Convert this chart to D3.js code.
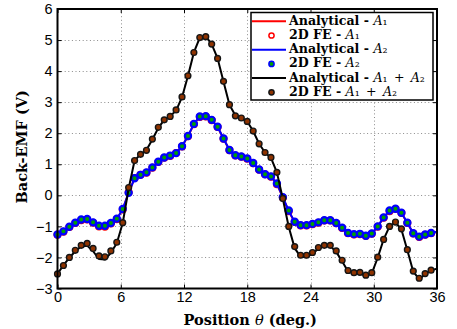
<!DOCTYPE html>
<html>
<head>
<meta charset="utf-8">
<script src="https://cdn.jsdelivr.net/npm/d3@7"></script>
<style>
  body { margin: 0; background: #fff; }
  svg { display: block; }
</style>
</head>
<body>
<svg id="chart" width="457" height="329"></svg>
<script>
// Rotor position samples: 64 finite-element steps over one 36 deg period
const feStep = 36 / 64;
const fePositions = d3.range(64).map(i => i * feStep);
const anPositions = d3.range(65).map(i => i * feStep);

// 2D finite-element back-EMF (V)
const feA2 = [
  -1.26, -1.16, -1.01, -0.88, -0.78, -0.76, -0.87, -0.98, -0.98, -0.89, -0.75, -0.44, 0.08, 0.55, 0.66, 0.74,
  0.90, 1.08, 1.22, 1.28, 1.36, 1.58, 1.91, 2.30, 2.54, 2.55, 2.43, 2.21, 1.83, 1.46, 1.29, 1.25,
  1.19, 1.04, 0.83, 0.68, 0.61, 0.38, -0.06, -0.49, -0.85, -0.96, -0.96, -0.92, -0.87, -0.80, -0.80, -0.89,
  -1.04, -1.21, -1.25, -1.24, -1.30, -1.23, -1.00, -0.71, -0.49, -0.43, -0.56, -0.88, -1.22, -1.33, -1.26, -1.21
];
const feA1 = [
  -1.27, -1.17, -1.02, -0.89, -0.80, -0.78, -0.88, -1.00, -1.01, -0.91, -0.77, -0.46, 0.10, 0.56, 0.66, 0.73,
  0.89, 1.07, 1.21, 1.27, 1.36, 1.57, 1.90, 2.29, 2.52, 2.54, 2.42, 2.20, 1.82, 1.45, 1.28, 1.24,
  1.18, 1.03, 0.82, 0.68, 0.60, 0.36, -0.07, -0.51, -0.86, -0.97, -0.97, -0.93, -0.88, -0.81, -0.81, -0.90,
  -1.05, -1.22, -1.26, -1.25, -1.31, -1.24, -1.01, -0.72, -0.51, -0.44, -0.57, -0.89, -1.23, -1.34, -1.27, -1.22
];
const feSum = [
  -2.53, -2.26, -2.00, -1.77, -1.61, -1.55, -1.71, -1.95, -1.98, -1.79, -1.51, -0.88, 0.25, 1.12, 1.32, 1.45,
  1.81, 2.19, 2.43, 2.54, 2.75, 3.17, 3.85, 4.60, 5.08, 5.11, 4.87, 4.41, 3.67, 2.92, 2.56, 2.49,
  2.38, 2.07, 1.66, 1.38, 1.22, 0.74, -0.10, -1.00, -1.65, -1.93, -1.93, -1.84, -1.68, -1.61, -1.61, -1.79,
  -2.09, -2.42, -2.49, -2.48, -2.57, -2.49, -1.99, -1.42, -1.00, -0.86, -1.08, -1.75, -2.44, -2.67, -2.52, -2.41
];

// Analytical back-EMF (V), same grid closed at 36 deg
const anA1 = [
  -1.27, -1.16, -1.02, -0.90, -0.81, -0.80, -0.90, -1.02, -1.03, -0.92, -0.77, -0.45, 0.09, 0.55, 0.66, 0.73,
  0.89, 1.07, 1.21, 1.27, 1.36, 1.57, 1.90, 2.29, 2.53, 2.55, 2.42, 2.20, 1.82, 1.45, 1.28, 1.24,
  1.18, 1.03, 0.82, 0.68, 0.60, 0.37, -0.07, -0.51, -0.87, -0.99, -0.99, -0.94, -0.88, -0.81, -0.81, -0.90,
  -1.05, -1.22, -1.27, -1.26, -1.31, -1.24, -1.01, -0.72, -0.50, -0.44, -0.57, -0.89, -1.23, -1.34, -1.27, -1.22,
  -1.18
];
const anA2 = [
  -1.26, -1.15, -1.01, -0.89, -0.80, -0.79, -0.89, -1.01, -1.02, -0.91, -0.76, -0.44, 0.08, 0.55, 0.66, 0.74,
  0.90, 1.08, 1.22, 1.28, 1.36, 1.58, 1.91, 2.30, 2.54, 2.55, 2.43, 2.21, 1.83, 1.46, 1.29, 1.25,
  1.19, 1.04, 0.83, 0.68, 0.61, 0.38, -0.06, -0.50, -0.86, -0.98, -0.98, -0.93, -0.87, -0.80, -0.80, -0.89,
  -1.04, -1.21, -1.26, -1.25, -1.30, -1.23, -1.00, -0.71, -0.49, -0.43, -0.56, -0.88, -1.22, -1.33, -1.26, -1.21,
  -1.17
];
const anSum = [
  -2.53, -2.25, -2.01, -1.80, -1.65, -1.62, -1.80, -2.05, -2.07, -1.85, -1.54, -0.89, 0.22, 1.12, 1.32, 1.46,
  1.80, 2.17, 2.43, 2.55, 2.73, 3.16, 3.84, 4.60, 5.08, 5.12, 4.87, 4.41, 3.66, 2.92, 2.57, 2.49,
  2.38, 2.07, 1.66, 1.38, 1.21, 0.74, -0.11, -1.02, -1.70, -1.98, -1.99, -1.88, -1.72, -1.63, -1.63, -1.82,
  -2.12, -2.45, -2.52, -2.51, -2.60, -2.51, -2.01, -1.42, -1.00, -0.87, -1.10, -1.77, -2.46, -2.70, -2.54, -2.42,
  -2.36
];

const xTickValues = [0, 6, 12, 18, 24, 30, 36];
const yTickValues = [-3, -2, -1, 0, 1, 2, 3, 4, 5, 6];

const plot = { left: 57.5, right: 437, top: 9, bottom: 288.5 };

const svg = d3.select("#chart");

const x = d3.scaleLinear().domain([0, 36]).range([plot.left, plot.right]);
const y = d3.scaleLinear().domain([-3, 6]).range([plot.bottom, plot.top]);

// Dotted grid
const grid = svg.append("g").attr("class", "grid")
  .attr("stroke", "#8c8c8c").attr("stroke-width", 1).attr("stroke-dasharray", "1,2.6");
grid.selectAll("line.gx").data(xTickValues.slice(1, -1)).join("line")
  .attr("x1", d => Math.round(x(d)) + 0.5).attr("x2", d => Math.round(x(d)) + 0.5)
  .attr("y1", plot.top).attr("y2", plot.bottom);
grid.selectAll("line.gy").data(yTickValues.slice(1, -1)).join("line")
  .attr("y1", d => Math.round(y(d)) + 0.5).attr("y2", d => Math.round(y(d)) + 0.5)
  .attr("x1", plot.left).attr("x2", plot.right);

// Axes with inward ticks on all four sides
const tickLen = 4;
const fmt = d => d < 0 ? "\u2212" + Math.abs(d) : String(d);
const axBottom = svg.append("g").attr("transform", `translate(0,${plot.bottom})`)
  .call(d3.axisBottom(x).tickValues(xTickValues).tickSizeInner(-tickLen).tickSizeOuter(0).tickPadding(5).tickFormat(fmt));
const axTop = svg.append("g").attr("transform", `translate(0,${plot.top})`)
  .call(d3.axisTop(x).tickValues(xTickValues).tickSizeInner(-tickLen).tickSizeOuter(0).tickFormat(""));
const axLeft = svg.append("g").attr("transform", `translate(${plot.left},0)`)
  .call(d3.axisLeft(y).tickValues(yTickValues).tickSizeInner(-tickLen).tickSizeOuter(0).tickPadding(5).tickFormat(fmt));
const axRight = svg.append("g").attr("transform", `translate(${plot.right},0)`)
  .call(d3.axisRight(y).tickValues(yTickValues).tickSizeInner(-tickLen).tickSizeOuter(0).tickFormat(""));

[axBottom, axTop, axLeft, axRight].forEach(g => {
  g.select(".domain").remove();
  g.selectAll(".tick line").attr("stroke", "#000").attr("stroke-width", 1);
  g.selectAll("text").attr("font-family", "'Liberation Sans', Arial, sans-serif")
    .attr("font-size", 14.5).attr("fill", "#000");
});
axBottom.selectAll("text").attr("dy", "0.6em");

// Series lines and markers
const lineGen = vals => d3.line().x((d, i) => x(anPositions[i])).y(d => y(d))(vals);
const layer = svg.append("g");

const drawLine = (vals, color, width) =>
  layer.append("path").attr("d", lineGen(vals)).attr("fill", "none")
    .attr("stroke", color).attr("stroke-width", width).attr("stroke-linejoin", "round");

const drawMarkers = (vals, fill, stroke, r, sw) =>
  layer.append("g").selectAll("circle").data(vals).join("circle")
    .attr("cx", (d, i) => x(fePositions[i])).attr("cy", d => y(d))
    .attr("r", r).attr("fill", fill).attr("stroke", stroke).attr("stroke-width", sw);

drawLine(anA1, "#ff0000", 2);
drawMarkers(feA1, "#ffffff", "#ff0000", 3.2, 1.6);
drawLine(anA2, "#0000ff", 2);
drawMarkers(feA2, "#00a000", "#0000ff", 3.1, 2.2);
drawLine(anSum, "#000000", 2);
drawMarkers(feSum, "#8f3300", "#151515", 2.9, 1.4);

// Axis box
svg.append("rect")
  .attr("x", plot.left).attr("y", plot.top)
  .attr("width", plot.right - plot.left).attr("height", plot.bottom - plot.top)
  .attr("fill", "none").attr("stroke", "#000").attr("stroke-width", 2);

// Axis titles
const serif = "'DejaVu Serif', 'Liberation Serif', serif";
const xTitle = svg.append("text")
  .attr("x", (plot.left + plot.right) / 2 + 3).attr("y", 325)
  .attr("text-anchor", "middle").attr("font-family", serif).attr("font-size", 14.5).attr("fill", "#000");
xTitle.append("tspan").attr("font-weight", "bold").text("Position ");
xTitle.append("tspan").attr("font-style", "italic").text("\u03b8");
xTitle.append("tspan").attr("font-weight", "bold").text(" (deg.)");

svg.append("text")
  .attr("transform", `translate(27,${(plot.top + plot.bottom) / 2 - 2}) rotate(-90)`)
  .attr("text-anchor", "middle").attr("font-family", serif).attr("font-size", 14.5)
  .attr("font-weight", "bold").attr("fill", "#000")
  .text("Back-EMF (V)");

// Legend
const legendEntries = [
  { kind: "line", color: "#ff0000", label: "Analytical - ", sym: ["\u2081"] },
  { kind: "marker", fill: "#ffffff", stroke: "#ff0000", label: "2D FE - ", sym: ["\u2081"] },
  { kind: "line", color: "#0000ff", label: "Analytical - ", sym: ["\u2082"] },
  { kind: "marker", fill: "#00a000", stroke: "#0000ff", label: "2D FE - ", sym: ["\u2082"] },
  { kind: "line", color: "#000000", label: "Analytical - ", sym: ["\u2081", "\u2082"] },
  { kind: "marker", fill: "#8f3300", stroke: "#151515", label: "2D FE - ", sym: ["\u2081", "\u2082"] }
];
const legendBox = { x: 251, y: 12.5, w: 182, h: 87.5 };
const legend = svg.append("g");
legend.append("rect")
  .attr("x", legendBox.x).attr("y", legendBox.y).attr("width", legendBox.w).attr("height", legendBox.h)
  .attr("fill", "#fff").attr("stroke", "#000").attr("stroke-width", 1.5);

const rowY = i => 21.3 + i * 14.2;
legendEntries.forEach((e, i) => {
  const cy = rowY(i);
  if (e.kind === "line") {
    legend.append("line").attr("x1", 252).attr("x2", 286).attr("y1", cy).attr("y2", cy)
      .attr("stroke", e.color).attr("stroke-width", 2);
  } else {
    legend.append("circle").attr("cx", 271.5).attr("cy", cy).attr("r", 2.6)
      .attr("fill", e.fill).attr("stroke", e.stroke).attr("stroke-width", 1.5);
  }
  const t = legend.append("text").attr("x", 289).attr("y", cy + 3.5)
    .attr("font-family", serif).attr("font-size", 12.6).attr("fill", "#000");
  t.append("tspan").attr("font-weight", "bold").text(e.label);
  e.sym.forEach((sub, k) => {
    if (k > 0) t.append("tspan").text("\u2002+\u2002");
    t.append("tspan").attr("font-style", "italic").text("A");
    t.append("tspan").text(sub);
  });
});
</script>
</body>
</html>
